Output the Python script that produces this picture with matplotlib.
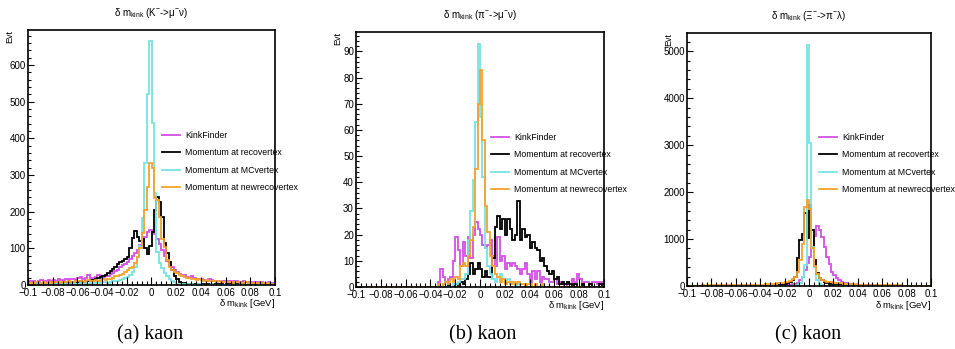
import numpy as np
import matplotlib
matplotlib.use('Agg')
import matplotlib.pyplot as plt
from matplotlib.ticker import MultipleLocator, FuncFormatter, AutoMinorLocator

plt.rcParams['font.family'] = ['Liberation Sans', 'DejaVu Sans']
plt.rcParams['mathtext.fontset'] = 'custom'
plt.rcParams['mathtext.rm'] = 'Liberation Sans'
plt.rcParams['mathtext.it'] = 'Liberation Sans'
plt.rcParams['mathtext.bf'] = 'Liberation Sans:bold'
plt.rcParams['mathtext.default'] = 'regular'

# ---------------- data ----------------
bin_lo, bin_hi, n_bins = -0.1, 0.1, 100

series_labels = ["KinkFinder", "Momentum at recovertex",
                 "Momentum at MCvertex", "Momentum at newrecovertex"]

# panel (a)  K- -> mu- nu
kink_a = [8, 12, 10, 9, 11, 13, 10, 12, 14, 11,
          13, 12, 15, 14, 11, 16, 13, 15, 17, 14,
          18, 22, 16, 19, 27, 20, 18, 22, 26, 24,
          22, 25, 24, 30, 32, 38, 42, 48, 55, 58,
          62, 70, 78, 88, 95, 108, 118, 132, 145, 150,
          146, 138, 125, 112, 95, 80, 66, 55, 48, 40,
          36, 30, 26, 28, 22, 20, 24, 18, 17, 15,
          16, 14, 12, 15, 13, 10, 12, 11, 9, 10,
          9, 11, 8, 10, 12, 9, 7, 10, 8, 9,
          8, 6, 9, 7, 8, 6, 5, 7, 6, 4]
reco_a = [4, 3, 5, 4, 6, 3, 5, 4, 6, 5,
          5, 7, 4, 6, 8, 5, 7, 6, 9, 8,
          9, 10, 8, 12, 11, 14, 13, 16, 18, 22,
          25, 28, 33, 38, 44, 50, 56, 62, 66, 70,
          75, 100, 127, 148, 130, 120, 125, 100, 85, 105,
          145, 205, 240, 225, 185, 115, 86, 64, 42, 25,
          15, 9, 6, 5, 4, 3, 4, 2, 3, 2,
          4, 3, 2, 3, 2, 4, 2, 3, 2, 1,
          2, 3, 1, 2, 2, 1, 3, 2, 1, 2,
          1, 2, 1, 1, 2, 1, 1, 2, 1, 1]
mc_a = [2, 3, 2, 4, 3, 2, 3, 4, 2, 3,
        3, 4, 2, 3, 5, 4, 3, 4, 5, 3,
        4, 5, 3, 6, 4, 5, 6, 5, 7, 6,
        7, 8, 6, 9, 10, 12, 11, 14, 16, 18,
        22, 27, 36, 50, 77, 105, 182, 332, 520, 664,
        441, 250, 91, 60, 45, 33, 25, 15, 10, 7,
        4, 3, 2, 3, 2, 1, 2, 1, 1, 2,
        1, 1, 0, 1, 2, 1, 0, 1, 1, 0,
        1, 0, 1, 1, 0, 1, 0, 0, 1, 0,
        0, 1, 0, 0, 1, 0, 0, 1, 0, 0]
new_a = [5, 6, 4, 7, 5, 6, 8, 5, 7, 6,
         7, 8, 6, 9, 7, 8, 10, 8, 9, 11,
         10, 12, 9, 11, 13, 10, 12, 14, 11, 13,
         15, 14, 17, 16, 20, 24, 25, 28, 30, 35,
         40, 45, 50, 60, 75, 100, 141, 205, 268, 333,
         318, 236, 232, 186, 125, 104, 68, 50, 42, 36,
         32, 28, 25, 22, 20, 18, 17, 15, 14, 16,
         13, 12, 14, 11, 10, 12, 9, 10, 8, 9,
         8, 7, 9, 6, 8, 7, 6, 5, 7, 6,
         5, 6, 5, 4, 6, 5, 4, 5, 4, 3]

# panel (b)  pi- -> mu- nu
kink_b = [0, 0, 0, 0, 0, 0, 0, 0, 0, 0,
          0, 0, 0, 0, 0, 0, 0, 0, 0, 0,
          0, 0, 0, 0, 0, 0, 0, 0, 0, 0,
          0, 0, 0, 2, 7, 4, 2, 3, 4, 10,
          19, 14, 8, 17, 12, 19, 11, 20, 25, 22,
          20, 16, 15, 16, 18, 12, 8, 19, 10, 12,
          7, 9, 8, 9, 8, 7, 5, 7, 9, 5,
          2, 6, 3, 6, 2, 4, 3, 3, 2, 2,
          3, 1, 2, 1, 0, 2, 1, 3, 2, 5,
          3, 1, 2, 2, 1, 2, 2, 1, 2, 1]
reco_b = [0, 0, 0, 0, 0, 0, 0, 0, 0, 0,
          0, 0, 0, 0, 0, 0, 0, 0, 0, 0,
          0, 0, 0, 0, 0, 0, 0, 0, 0, 0,
          0, 0, 0, 0, 0, 0, 0, 1, 0, 0,
          1, 0, 2, 1, 3, 5, 9, 5, 7, 9,
          7, 4, 6, 4, 4, 11, 23, 27, 22, 26,
          20, 26, 22, 18, 20, 33, 18, 22, 19, 20,
          15, 17, 15, 14, 10, 11, 8, 6, 5, 6,
          3, 4, 1, 2, 1, 2, 1, 0, 1, 0,
          0, 1, 0, 0, 1, 0, 0, 0, 1, 0]
mc_b = [0, 0, 0, 0, 0, 0, 0, 0, 0, 0,
        0, 0, 0, 0, 0, 0, 0, 0, 0, 0,
        0, 0, 0, 0, 0, 0, 0, 0, 0, 0,
        0, 0, 0, 0, 0, 0, 0, 0, 0, 1,
        1, 2, 3, 3, 5, 18, 29, 41, 63, 93,
        65, 42, 15, 8, 5, 3, 2, 4, 5, 2,
        1, 3, 2, 1, 0, 1, 0, 0, 1, 0,
        0, 0, 0, 0, 0, 0, 0, 0, 0, 0,
        0, 0, 0, 0, 0, 0, 0, 0, 0, 0,
        0, 0, 0, 0, 0, 0, 0, 0, 0, 0]
new_b = [0, 0, 0, 0, 0, 0, 0, 0, 0, 0,
         0, 0, 0, 0, 0, 0, 0, 0, 0, 0,
         0, 0, 0, 0, 0, 0, 0, 0, 0, 0,
         0, 0, 0, 1, 0, 1, 2, 1, 3, 2,
         4, 3, 8, 9, 8, 12, 18, 23, 45, 70,
         83, 56, 31, 21, 12, 8, 5, 4, 2, 3,
         1, 2, 1, 2, 1, 2, 1, 1, 0, 1,
         1, 0, 1, 0, 0, 1, 0, 0, 0, 0,
         0, 0, 0, 0, 0, 0, 0, 0, 0, 0,
         0, 0, 0, 0, 0, 0, 0, 0, 0, 0]

# panel (c)  Xi- -> pi- lambda
kink_c = [1, 2, 1, 1, 2, 1, 2, 1, 2, 2,
          1, 2, 2, 1, 2, 2, 3, 2, 2, 3,
          2, 3, 3, 2, 3, 3, 3, 4, 3, 3,
          3, 4, 4, 5, 6, 7, 8, 10, 12, 15,
          18, 22, 26, 32, 40, 60, 130, 200, 340, 480,
          625, 840, 1067, 1280, 1190, 1050, 830, 620, 460, 300,
          230, 160, 120, 90, 70, 55, 45, 38, 30, 25,
          22, 20, 18, 16, 15, 14, 12, 11, 10, 10,
          9, 8, 8, 7, 7, 6, 6, 6, 5, 5,
          5, 4, 4, 4, 4, 3, 3, 3, 3, 2]
reco_c = [1, 0, 1, 2, 1, 1, 2, 1, 1, 2,
          1, 2, 1, 2, 2, 1, 2, 2, 3, 2,
          2, 3, 2, 3, 3, 2, 3, 3, 4, 3,
          3, 4, 5, 6, 8, 10, 12, 15, 20, 28,
          40, 55, 80, 130, 200, 590, 975, 1100, 1550, 1030,
          1720, 1200, 560, 280, 180, 120, 85, 60, 45, 35,
          28, 22, 18, 15, 12, 10, 8, 7, 6, 5,
          5, 4, 4, 3, 3, 3, 2, 2, 2, 2,
          2, 1, 2, 1, 1, 2, 1, 1, 1, 1,
          1, 1, 0, 1, 1, 0, 1, 1, 0, 1]
mc_c = [0, 0, 0, 0, 0, 0, 0, 0, 0, 0,
        0, 0, 0, 0, 0, 0, 0, 0, 0, 0,
        0, 0, 0, 0, 0, 0, 1, 0, 0, 1,
        0, 1, 1, 0, 1, 1, 1, 1, 2, 1,
        2, 2, 3, 4, 8, 20, 60, 200, 450, 5140,
        3040, 840, 400, 130, 40, 15, 8, 5, 3, 2,
        1, 1, 1, 0, 1, 0, 0, 1, 0, 0,
        0, 0, 0, 0, 0, 0, 0, 0, 0, 0,
        0, 0, 0, 0, 0, 0, 0, 0, 0, 0,
        0, 0, 0, 0, 0, 0, 0, 0, 0, 0]
new_c = [8, 9, 8, 10, 9, 10, 11, 10, 12, 11,
         12, 13, 12, 14, 13, 15, 14, 16, 15, 17,
         16, 18, 19, 18, 20, 21, 22, 24, 25, 27,
         28, 30, 33, 36, 40, 44, 48, 55, 62, 70,
         80, 95, 115, 150, 200, 300, 550, 900, 1680, 1835,
         1650, 800, 420, 250, 170, 130, 110, 95, 85, 78,
         72, 66, 60, 55, 50, 46, 42, 38, 35, 32,
         30, 28, 26, 24, 22, 21, 20, 18, 17, 16,
         15, 14, 14, 13, 12, 12, 11, 11, 10, 10,
         9, 9, 9, 8, 8, 8, 7, 7, 7, 6]

titles = [r'$\delta$ m$_{kink}$ (K$^{-}$->$\mu^{-}\nu$)',
          r'$\delta$ m$_{kink}$ ($\pi^{-}$->$\mu^{-}\nu$)',
          r'$\delta$ m$_{kink}$ ($\Xi^{-}$->$\pi^{-}\lambda$)']
captions = ['(a) kaon', '(b) kaon', '(c) kaon']
y_max = [695, 97.4, 5390]
y_major = [100, 10, 1000]

panels = [(kink_a, reco_a, mc_a, new_a),
          (kink_b, reco_b, mc_b, new_b),
          (kink_c, reco_c, mc_c, new_c)]

# ---------------- style / layout ----------------
colors = ['#d24fe4', '#000000', '#76e3e3', '#f6a22c']
W, H = 955, 349
axes_px = [(28, 30, 275, 285), (356, 32, 604, 287), (687, 33, 931, 286)]
legend_px = [(162, 131), (491, 133), (819, 133)]
caption_px = [(150, 335), (483, 335), (808, 335)]

edges = np.linspace(bin_lo, bin_hi, n_bins + 1)

fig = plt.figure(figsize=(W / 100, H / 100), dpi=100)


def xfmt(v, pos):
    r = round(v, 4)
    if abs(r) < 1e-9:
        return '0'
    return ('%g' % r).replace('-', '\u2212')


for k in range(3):
    l, t, r, b = axes_px[k]
    ax = fig.add_axes([l / W, 1 - b / H, (r - l) / W, (b - t) / H])
    handles = []
    for s in range(4):
        h = ax.stairs(panels[k][s], edges, color=colors[s], lw=1.3,
                      baseline=None, label=series_labels[s])
        handles.append(h)
    ax.set_xlim(bin_lo, bin_hi)
    ax.set_ylim(0, y_max[k])
    ax.xaxis.set_major_locator(MultipleLocator(0.02))
    ax.xaxis.set_minor_locator(AutoMinorLocator(5))
    ax.xaxis.set_major_formatter(FuncFormatter(xfmt))
    ax.yaxis.set_major_locator(MultipleLocator(y_major[k]))
    ax.yaxis.set_minor_locator(AutoMinorLocator(5))
    ax.tick_params(axis='both', which='both', direction='in', top=False,
                   right=False, labelsize=7, width=0.8, colors='black')
    ax.tick_params(axis='x', which='major', length=5.5, pad=2.5)
    ax.tick_params(axis='x', which='minor', length=2.8)
    ax.tick_params(axis='y', which='major', length=4, pad=1.5)
    ax.tick_params(axis='y', which='minor', length=2.2)
    for sp in ax.spines.values():
        sp.set_linewidth(1.2)
    hpx = b - t
    wpx = r - l
    ax.text(0.5, 1 + 17 / hpx, titles[k], transform=ax.transAxes,
            ha='center', va='center', fontsize=7)
    ax.text(1.0, -19 / hpx, r'$\delta$ m$_{kink}$ [GeV]', transform=ax.transAxes,
            ha='right', va='center', fontsize=6.8)
    ax.text(-18 / wpx, 1.0, 'Evt', transform=ax.transAxes, rotation=90,
            ha='center', va='top', fontsize=6.5)
    lx, ly = legend_px[k]
    ax.legend(handles=handles, loc='upper left',
              bbox_to_anchor=(lx / W, 1 - ly / H), bbox_transform=fig.transFigure,
              frameon=False, fontsize=6.3, handlelength=2.06,
              handletextpad=0.57, labelspacing=0.95, borderpad=0,
              borderaxespad=0)
    cx, cy = caption_px[k]
    fig.text(cx / W, 1 - cy / H, captions[k], family='Liberation Serif',
             fontsize=14.5, ha='center', va='center')

fig.savefig('out.png', dpi=100)
